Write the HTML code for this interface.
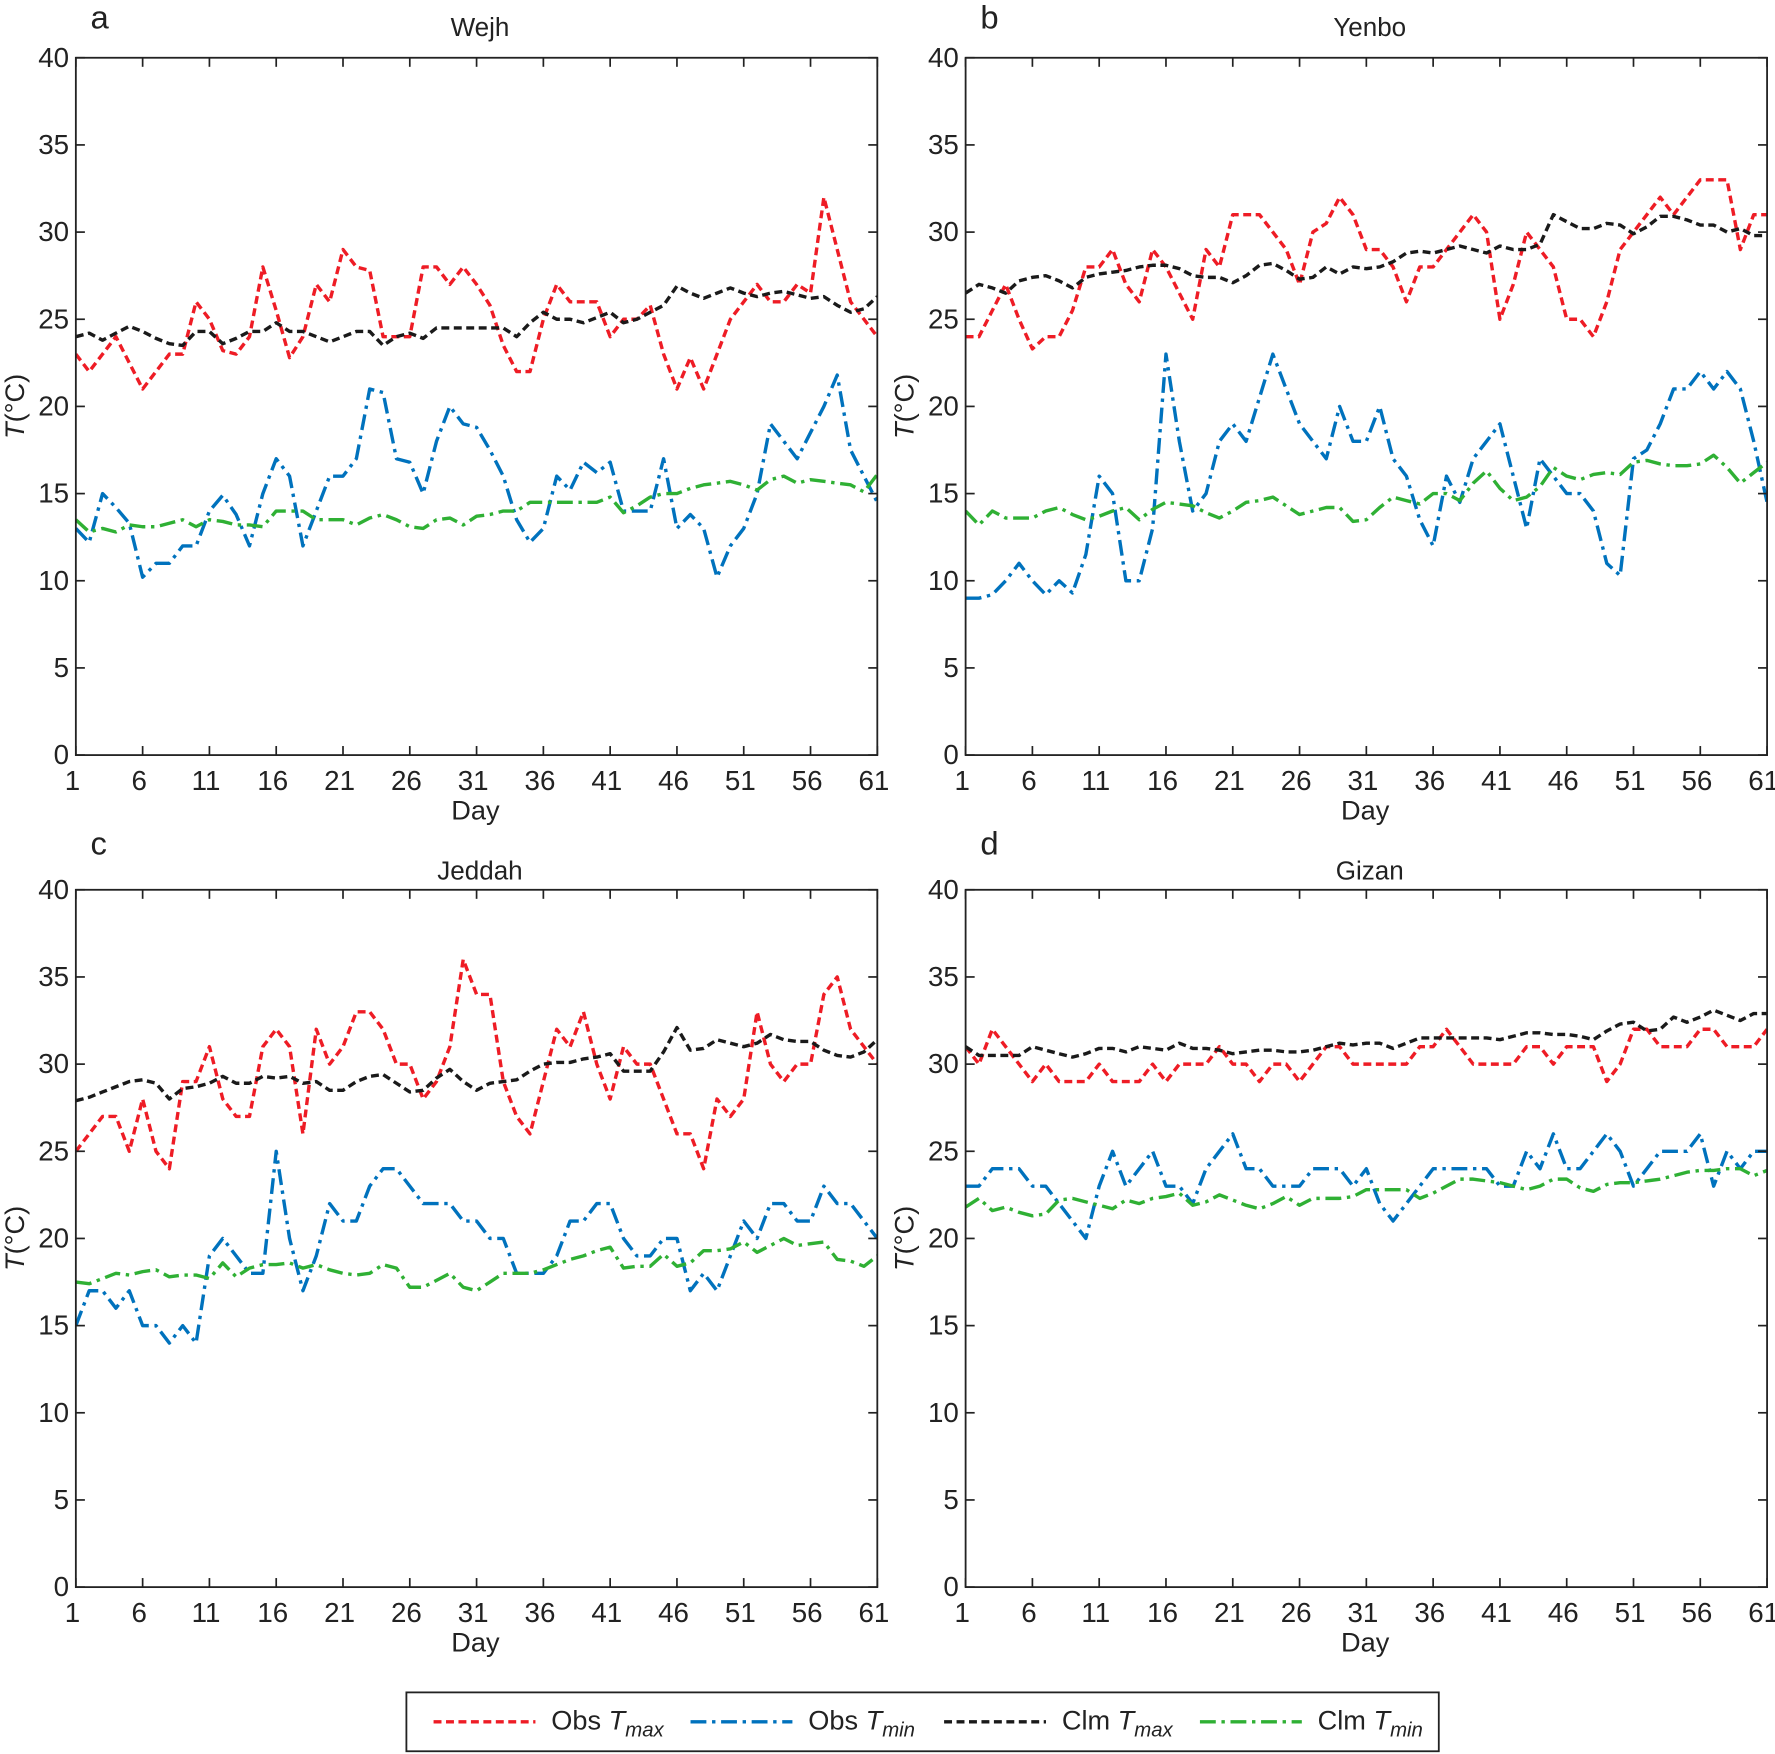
<!DOCTYPE html>
<html><head><meta charset="utf-8"><style>html,body{margin:0;padding:0;background:#fff}svg{display:block}</style></head>
<body>
<svg id="fig" xmlns="http://www.w3.org/2000/svg" width="1775" height="1754" viewBox="0 0 1568 1549.4" font-family="Liberation Sans, Arial, sans-serif"></svg>
<script>
const days = [1,6,11,16,21,26,31,36,41,46,51,56,61];
const yTicks = [0,5,10,15,20,25,30,35,40];
const stations = ["Wejh","Yenbo","Jeddah","Gizan"];
const letters = ["a","b","c","d"];
const wejhObsMax=[23,22,23,24,22.5,21,22,23,23,26,25,23.2,23,24,28,25.5,22.8,24,27,26,29,28,27.8,24,24,24,28,28,27,28,27,25.8,23.5,22,22,25,27,26,26,26,24,25,25,25.8,23,21,22.8,21,23,25,26,27,26,26,27,26.5,32,29,26,25,24];
const wejhClmMax=[24,24.2,23.8,24.2,24.6,24.3,23.9,23.6,23.5,24.3,24.3,23.6,23.9,24.3,24.3,24.8,24.3,24.3,24.0,23.7,24.0,24.3,24.3,23.5,24.0,24.2,23.9,24.5,24.5,24.5,24.5,24.5,24.5,24.0,24.8,25.4,25.0,25.0,24.8,25.1,25.4,24.8,25.0,25.4,25.8,26.9,26.5,26.2,26.5,26.8,26.5,26.3,26.5,26.6,26.4,26.2,26.3,25.8,25.4,25.6,26.3];
const wejhObsMin=[13,12.2,15,14.2,13.3,10.2,11,11,12,12,14,14.9,13.8,12,15,17,16,12,14,16,16,17,21,20.8,17,16.8,15,18,20,19,18.8,17.5,16,13.5,12.2,13,16,15.2,16.8,16.2,16.8,14,14,14,17,13,13.8,13,10.2,12,13,15,19,18,17,18.5,20,21.8,17.5,16,14.5];
const wejhClmMin=[13.5,12.8,13,12.8,13.2,13.1,13.1,13.3,13.5,13.1,13.5,13.4,13.2,13.2,13.1,14,14,14,13.5,13.5,13.5,13.2,13.6,13.8,13.5,13.1,13,13.5,13.6,13.2,13.7,13.8,14,14,14.5,14.5,14.5,14.5,14.5,14.5,14.8,13.9,14.3,14.8,15,15,15.3,15.5,15.6,15.7,15.5,15.2,15.8,16,15.6,15.8,15.7,15.6,15.5,15.1,16.1];
const yenboObsMax=[24,24,25.5,27,25,23.3,24,24,25.5,28,28,29,27,26,29,28,26.5,25,29,28,31,31,31,30,29,27,30,30.5,32,31,29,29,28,26,28,28,29,30,31,30,25,27,30,29,28,25,25,24,26,29,30,31,32,31,32,33,33,33,29,31,31];
const yenboClmMax=[26.5,27,26.8,26.5,27.2,27.4,27.5,27.2,26.8,27.4,27.6,27.7,27.8,28,28.1,28.1,27.9,27.5,27.4,27.4,27.1,27.5,28.1,28.2,27.8,27.3,27.4,28,27.6,28,27.9,28,28.3,28.8,28.9,28.8,29,29.2,29,28.8,29.2,29,29,29.3,31,30.6,30.2,30.2,30.5,30.4,29.9,30.3,30.9,30.9,30.7,30.4,30.4,30.0,30.2,29.8,29.8];
const yenboObsMin=[9,9,9.2,10,11,10,9.2,10,9.3,11.5,16,15,10,10,13,23,18,14,15,18,19,18,20.5,23,21,19,18,17,20,18,18,20,17,16,13.5,12,16,14.5,17,18,19,16,13,17,16,15,15,14,11,10.3,17,17.5,19,21,21,22,21,22,21,18,14.5];
const yenboClmMin=[14,13.2,14,13.6,13.6,13.6,14,14.2,13.8,13.5,13.7,14,14.2,13.5,14.1,14.5,14.4,14.3,13.9,13.6,14,14.5,14.6,14.8,14.3,13.8,14,14.2,14.2,13.4,13.5,14.2,14.8,14.6,14.4,15,15,14.6,15.6,16.3,15.3,14.6,14.8,15.4,16.5,16,15.8,16.1,16.2,16.1,16.8,16.9,16.7,16.6,16.6,16.7,17.2,16.5,15.6,16.2,16.8];
const jeddahObsMax=[25,26,27,27,25,28,25,24,29,29,31,28,27,27,31,32,31,26,32,30,31,33,33,32,30,30,28,29,31,36,34,34,29,27,26,29,32,31,33,30,28,31,30,30,28,26,26,24,28,27,28,33,30,29,30,30,34,35,32,31,30];
const jeddahClmMax=[27.9,28.1,28.4,28.7,29,29.1,28.9,28,28.6,28.7,28.9,29.3,28.9,28.9,29.3,29.2,29.3,28.9,29,28.5,28.5,29,29.3,29.4,28.9,28.4,28.5,29.2,29.7,29,28.5,28.9,29,29.1,29.6,30,30.1,30.1,30.3,30.4,30.6,29.6,29.6,29.6,30.7,32.1,30.8,30.9,31.4,31.2,31,31.2,31.7,31.4,31.3,31.3,30.8,30.5,30.4,30.7,31.4];
const jeddahObsMin=[15,17,17,16,17,15,15,14,15,14,19,20,19,18,18,25,20,17,19,22,21,21,23,24,24,23,22,22,22,21,21,20,20,18,18,18,19,21,21,22,22,20,19,19,20,20,17,18,17,19,21,20,22,22,21,21,23,22,22,21,20];
const jeddahClmMin=[17.5,17.4,17.7,18,17.9,18.1,18.2,17.8,17.9,17.9,17.7,18.6,17.8,18.3,18.5,18.5,18.6,18.3,18.5,18.2,18,17.9,18,18.5,18.3,17.2,17.2,17.6,18,17.2,17,17.5,18,18,18,18.2,18.5,18.8,19,19.3,19.5,18.3,18.4,18.4,19.1,18.4,18.6,19.3,19.3,19.4,19.8,19.2,19.6,20,19.6,19.7,19.8,18.8,18.7,18.4,19];
const gizanObsMax=[31,30,32,31,30,29,30,29,29,29,30,29,29,29,30,29,30,30,30,31,30,30,29,30,30,29,30,31,31,30,30,30,30,30,31,31,32,31,30,30,30,30,31,31,30,31,31,31,29,30,32,32,31,31,31,32,32,31,31,31,32];
const gizanClmMax=[31,30.5,30.5,30.5,30.5,31,30.8,30.6,30.4,30.6,30.9,30.9,30.7,31,30.9,30.8,31.2,30.9,30.9,30.8,30.6,30.7,30.8,30.8,30.7,30.7,30.8,31,31.2,31.1,31.2,31.2,30.9,31.2,31.5,31.5,31.5,31.5,31.5,31.5,31.4,31.6,31.8,31.8,31.7,31.7,31.6,31.4,31.9,32.3,32.4,31.9,32,32.7,32.4,32.7,33.1,32.8,32.5,32.9,32.9];
const gizanObsMin=[23,23,24,24,24,23,23,22,21,20,23,25,23,24,25,23,23,22,24,25,26,24,24,23,23,23,24,24,24,23,24,22,21,22,23,24,24,24,24,24,23,23,25,24,26,24,24,25,26,25,23,24,25,25,25,26,23,25,24,25,25];
const gizanClmMin=[21.8,22.3,21.6,21.8,21.5,21.3,21.4,22.2,22.3,22.1,21.9,21.7,22.2,22,22.3,22.4,22.6,21.9,22.1,22.5,22.2,21.9,21.7,22,22.4,21.9,22.3,22.3,22.3,22.4,22.8,22.8,22.8,22.8,22.3,22.6,23,23.4,23.4,23.3,23.2,23,22.8,23,23.4,23.4,22.9,22.7,23.1,23.2,23.2,23.3,23.4,23.6,23.8,23.9,23.9,24,24,23.6,23.9];

const NS="http://www.w3.org/2000/svg";
const svg=document.getElementById('fig');
function mk(tag,attrs,parent){const e=document.createElementNS(NS,tag);for(const k in attrs)e.setAttribute(k,attrs[k]);(parent||svg).appendChild(e);return e;}
const styles=[
 {c:"#ee1c25",d:"7,4",n:"obs-tmax"},
 {c:"#0072bd",d:"14,5,3,5",n:"obs-tmin"},
 {c:"#1a1a1a",d:"7,4",n:"clm-tmax"},
 {c:"#2fb034",d:"14,5,3,5",n:"clm-tmin"}];
const seriesSets=[[wejhObsMax,wejhObsMin,wejhClmMax,wejhClmMin],[yenboObsMax,yenboObsMin,yenboClmMax,yenboClmMin],[jeddahObsMax,jeddahObsMin,jeddahClmMax,jeddahClmMin],[gizanObsMax,gizanObsMin,gizanClmMax,gizanClmMin]];
const boxes=[[67,51],[853,51],[67,786],[853,786]];
const titleOff=[19,19,9,9], letterOff=[26,26,31,31];
const W=708,H=616;
for(let p=0;p<4;p++){
  const [x0,y0]=boxes[p];
  const g=mk('g',{});
  
  
  const sx=d=>x0+(d-1)/60*W, sy=v=>y0+H-v/40*H;
  const clipId='clip'+p;
  const cp=mk('clipPath',{id:clipId},g);mk('rect',{x:x0,y:y0,width:W,height:H},cp);
  const pl=mk('g',{'clip-path':'url(#'+clipId+')'},g);
  [0,2,1,3].forEach(s=>{
    const arr=seriesSets[p][s];
    const pts=arr.map((v,i)=>sx(i+1).toFixed(1)+','+sy(v).toFixed(1)).join(' ');
    const l=mk('polyline',{points:pts,fill:'none',stroke:styles[s].c,'stroke-width':3,'stroke-dasharray':styles[s].d,'stroke-linejoin':'round'},pl);
    
    
  });
  const frame=mk('rect',{x:x0,y:y0,width:W,height:H,fill:'none',stroke:'#222','stroke-width':1.6},g);
  
  
  days.forEach(d=>{const x=sx(d);
    mk('line',{x1:x,x2:x,y1:y0+H,y2:y0+H-8,stroke:'#222','stroke-width':1.5},g);
    mk('line',{x1:x,x2:x,y1:y0,y2:y0+8,stroke:'#222','stroke-width':1.5},g);
    const t=mk('text',{x:x-3,y:y0+H+31,'text-anchor':'middle','font-size':24.5,fill:'#222'},g);t.textContent=d;
    
    });
  yTicks.forEach(v=>{const y=sy(v);
    mk('line',{x1:x0,x2:x0+8,y1:y,y2:y,stroke:'#222','stroke-width':1.5},g);
    mk('line',{x1:x0+W,x2:x0+W-8,y1:y,y2:y,stroke:'#222','stroke-width':1.5},g);
    const t=mk('text',{x:x0-6,y:y+8,'text-anchor':'end','font-size':24.5,fill:'#222'},g);t.textContent=v;
    
    });
  const xl=mk('text',{x:x0+W/2-1,y:y0+H+57,'text-anchor':'middle','font-size':24,fill:'#222'},g);xl.textContent='Day';
  
  
  const yl=mk('text',{transform:'translate('+(x0-46)+','+(y0+H/2)+') rotate(-90)','text-anchor':'middle','font-size':24,fill:'#222'},g);
  yl.innerHTML='<tspan font-style="italic">T</tspan>(°C)';
  
  
  const ti=mk('text',{x:x0+W/2+3,y:y0-titleOff[p],'text-anchor':'middle','font-size':23,fill:'#222'},g);ti.textContent=stations[p];
  
  
  const le=mk('text',{x:x0+13,y:y0-letterOff[p],'font-size':29,fill:'#222'},g);le.textContent=letters[p];
  
  
}
const lg=mk('g',{});


mk('rect',{x:359,y:1495,width:912,height:52,fill:'#fff',stroke:'#222','stroke-width':1.6},lg);
const lx=[383,610,834,1060];
const labels=[["Obs","max"],["Obs","min"],["Clm","max"],["Clm","min"]];
for(let i=0;i<4;i++){
  const e=mk('g',{},lg);
  
  
  mk('line',{x1:lx[i],x2:lx[i]+90,y1:1521,y2:1521,stroke:styles[i].c,'stroke-width':3,'stroke-dasharray':styles[i].d},e);
  const t=mk('text',{x:lx[i]+104,y:1528,'font-size':24,fill:'#222'},e);
  t.innerHTML=labels[i][0]+' <tspan font-style="italic">T</tspan><tspan font-style="italic" font-size="18" dy="6">'+labels[i][1]+'</tspan>';
}
</script>
</body></html>
